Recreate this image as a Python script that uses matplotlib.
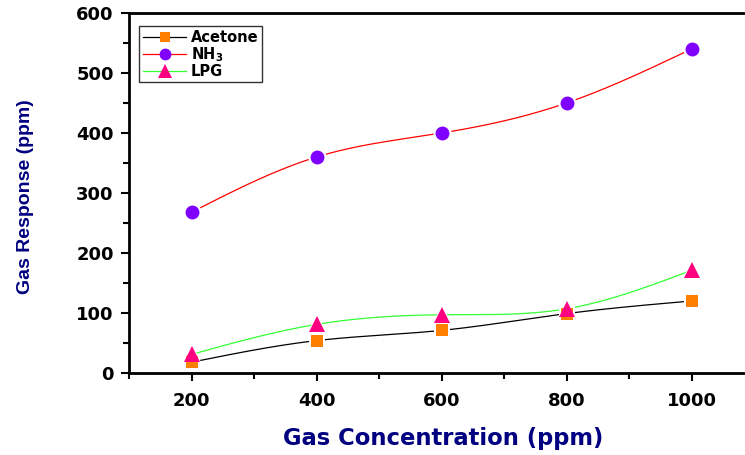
import numpy as np
import matplotlib
matplotlib.use('Agg')
import matplotlib.pyplot as plt
from matplotlib.ticker import MultipleLocator

# data
conc = [200, 400, 600, 800, 1000]
acetone = [18, 54, 71, 99, 120]
nh3 = [268, 360, 400, 450, 540]
lpg = [31, 81, 97, 107, 171]


def spline(x, y, n=200):
    # natural cubic spline, just for the smooth connecting line
    x = np.asarray(x, float)
    y = np.asarray(y, float)
    k = len(x)
    h = np.diff(x)
    A = np.zeros((k, k))
    b = np.zeros(k)
    A[0, 0] = A[-1, -1] = 1
    for i in range(1, k - 1):
        A[i, i - 1] = h[i - 1]
        A[i, i] = 2 * (h[i - 1] + h[i])
        A[i, i + 1] = h[i]
        b[i] = 6 * ((y[i + 1] - y[i]) / h[i] - (y[i] - y[i - 1]) / h[i - 1])
    M = np.linalg.solve(A, b)
    xs = np.linspace(x[0], x[-1], n)
    ys = np.empty_like(xs)
    for j, xv in enumerate(xs):
        i = min(np.searchsorted(x, xv, side='right') - 1, k - 2)
        t0 = x[i + 1] - xv
        t1 = xv - x[i]
        ys[j] = (M[i] * t0**3 + M[i + 1] * t1**3) / (6 * h[i]) \
            + (y[i] / h[i] - M[i] * h[i] / 6) * t0 \
            + (y[i + 1] / h[i] - M[i + 1] * h[i] / 6) * t1
    return xs, ys


plt.rcParams['font.family'] = ['DejaVu Sans']
plt.rcParams['font.weight'] = 'bold'

fig = plt.figure(figsize=(7.45, 4.55), dpi=100)
ax = fig.add_axes([129 / 745, 1 - 373 / 455, 625 / 745, 360 / 455])

series = [
    ('Acetone', acetone, 'black', 's', '#ff8000', 8.5),
    ('NH$_3$', nh3, 'red', 'o', '#8000ff', 10),
    ('LPG', lpg, '#33ff33', '^', '#ff0080', 11),
]

for name, vals, lc, mk, mc, ms in series:
    xs, ys = spline(conc, vals)
    ax.plot(xs, ys, color=lc, lw=0.9, zorder=2)

handles = []
for name, vals, lc, mk, mc, ms in series:
    ax.plot(conc, vals, mk, ms=ms + 3, color='white', mew=0, zorder=3)
    ax.plot(conc, vals, mk, ms=ms, color=mc, mew=0, zorder=4)
    h, = ax.plot([], [], color=lc, lw=0.9, marker=mk, ms=ms - 1.5,
                 markerfacecolor=mc, markeredgewidth=0)
    handles.append((h, name))

ax.set_xlim(100, 1100)
ax.set_ylim(0, 600)
ax.xaxis.set_major_locator(MultipleLocator(200))
ax.xaxis.set_minor_locator(MultipleLocator(100))
ax.yaxis.set_major_locator(MultipleLocator(100))
ax.yaxis.set_minor_locator(MultipleLocator(50))
ax.tick_params(which='both', direction='out', width=1.5, labelsize=13,
               top=False, right=False)
ax.tick_params(which='major', length=6, pad=5)
ax.tick_params(which='minor', length=4)
for lab in ax.get_xticklabels() + ax.get_yticklabels():
    lab.set_fontweight('bold')
for s in ax.spines.values():
    s.set_linewidth(2)
ax.xaxis.set_tick_params(pad=8)

ax.set_xlabel('Gas Concentration (ppm)', fontsize=16.3, fontweight='bold',
              color='#000080')
ax.xaxis.set_label_coords(0.5024, -0.15)
ax.set_ylabel('Gas Response (ppm)', fontsize=14, fontweight='bold',
              color='#000080', family='Liberation Sans')
ax.yaxis.set_label_coords(-0.152, 0.489)

leg = ax.legend([h for h, _ in handles], [n for _, n in handles],
                loc='upper left', bbox_to_anchor=(0.016, 0.963),
                fontsize=10.5, frameon=True, fancybox=False, handlelength=3.0,
                borderpad=0.25, labelspacing=0.0, handletextpad=0.3,
                borderaxespad=0)
leg.get_frame().set_edgecolor('black')
leg.get_frame().set_linewidth(1)
for t in leg.get_texts():
    t.set_fontweight('bold')

fig.savefig('out.png', dpi=100)
